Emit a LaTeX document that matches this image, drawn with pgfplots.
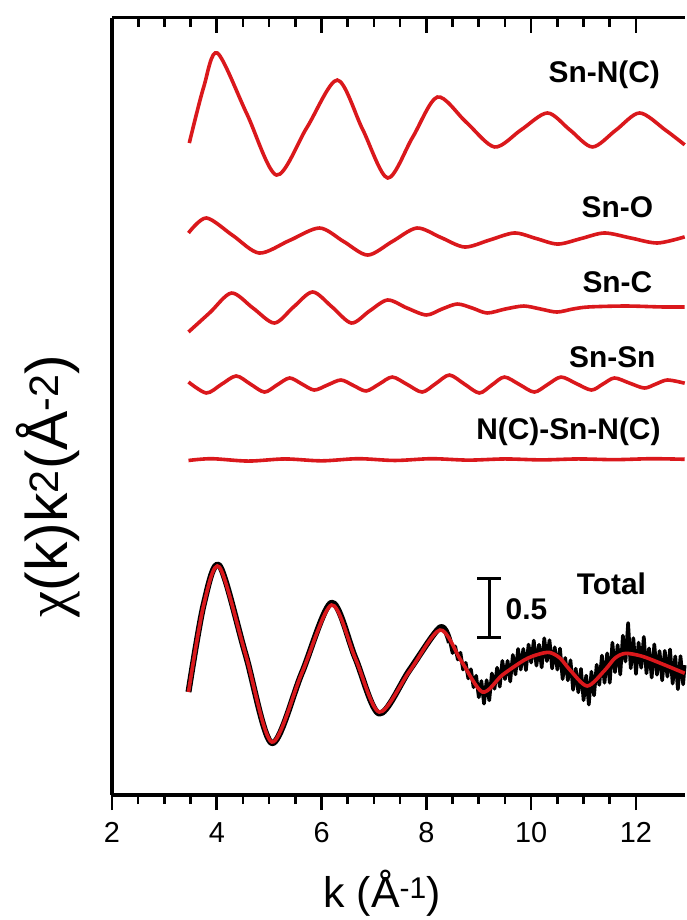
\documentclass[border=0pt]{standalone}
\usepackage{fontspec}
\setmainfont{Liberation Sans}
\newfontfamily\chifont{Liberation Serif}
\usepackage{pgfplots}
\pgfplotsset{compat=1.18}
\definecolor{fitred}{RGB}{218,24,28}
\pgfplotsset{
  common/.style={
    at={(112bp,125bp)}, anchor=south west,
    scale only axis, width=572.7bp, height=777bp,
    xmin=2, xmax=12.93, ymin=0, ymax=6.585,
    xtick={2,4,6,8,10,12}, minor x tick num=3,
    ytick=\empty,
    axis line style={-, line width=3bp},
    every tick/.style={line width=2.6bp, black},
    major tick length=15bp, minor tick length=9bp,
    clip=false,
  }
}
\begin{document}
\begin{tikzpicture}
\path (0,0) rectangle (685bp,920bp);
\begin{axis}[common,
  axis x line*=bottom, axis y line*=left,
  tick align=outside,
  xticklabel style={font=\fontsize{29}{29}\selectfont, inner sep=0pt, anchor=north, yshift=-12bp},
  /pgf/number format/assume math mode=true,
]
% Total: experimental data (black), low-k part
\addplot[black, line width=6bp, smooth, line join=round] coordinates {
(3.46,0.873) (3.75,1.615) (4.05,1.945) (4.55,1.19) (5.05,0.44) (5.62,1.03)
(6.19,1.63) (6.645,1.16) (7.10,0.69) (7.68,1.06) (8.26,1.42) (8.45,1.29)
};
% Total: experimental data (black), noisy high-k part
\addplot[black, line width=3.6bp, line join=round] coordinates {
(8.45,1.305) (8.50,1.203) (8.55,1.260) (8.60,1.148) (8.65,1.206) (8.70,1.063)
(8.75,1.121) (8.80,0.988) (8.85,1.066) (8.90,0.913) (8.95,1.011) (9.00,0.828)
(9.05,0.966) (9.10,0.774) (9.15,0.973) (9.20,0.802) (9.25,1.031) (9.30,0.900)
(9.35,1.079) (9.40,0.918) (9.45,1.137) (9.50,0.982) (9.55,1.137) (9.60,0.962)
(9.65,1.187) (9.70,1.022) (9.75,1.238) (9.80,1.063) (9.85,1.238) (9.90,1.058)
(9.95,1.275) (10.00,1.122) (10.05,1.309) (10.10,1.096) (10.15,1.274) (10.20,1.081)
(10.25,1.328) (10.30,1.135) (10.35,1.312) (10.40,1.072) (10.45,1.252) (10.50,1.062)
(10.55,1.242) (10.60,0.982) (10.65,1.162) (10.70,0.972) (10.75,1.142) (10.80,0.891)
(10.85,1.071) (10.90,0.870) (10.95,1.069) (11.00,0.803) (11.05,1.012) (11.10,0.766)
(11.15,1.045) (11.20,0.844) (11.25,1.104) (11.30,0.933) (11.35,1.182) (11.40,0.951)
(11.45,1.201) (11.50,0.951) (11.55,1.291) (11.60,1.041) (11.65,1.271) (11.70,1.021)
(11.75,1.351) (11.80,1.131) (11.85,1.458) (11.90,1.074) (11.95,1.330) (12.00,1.026)
(12.05,1.292) (12.10,1.078) (12.15,1.340) (12.20,1.031) (12.25,1.243) (12.30,0.995)
(12.35,1.277) (12.40,1.019) (12.45,1.220) (12.50,0.971) (12.55,1.222) (12.60,1.003)
(12.65,1.234) (12.70,0.944) (12.75,1.175) (12.80,0.896) (12.85,1.177) (12.90,0.938)
(12.93,1.100)
};
% Total: fit
\addplot[fitred, line width=3.6bp, smooth] coordinates {
(3.46,0.873) (3.75,1.610) (4.05,1.932) (4.55,1.191) (5.05,0.449) (5.62,1.030)
(6.19,1.610) (6.645,1.157) (7.10,0.703) (7.68,1.051) (8.26,1.398) (8.665,1.136)
(9.07,0.873) (9.45,1.017) (9.87,1.144) (10.12,1.190) (10.35,1.208) (10.55,1.160)
(10.75,1.055) (11.07,0.924) (11.40,1.055) (11.60,1.160) (11.80,1.200) (12.10,1.178)
(12.41,1.127) (12.93,1.032)
};
% Sn-N(C)
\addplot[fitred, line width=3.6bp, smooth] coordinates {
(3.475,5.525) (3.75,6.00) (4.01,6.288) (4.575,5.771) (5.14,5.254) (5.72,5.657)
(6.30,6.059) (6.78,5.644) (7.26,5.229) (7.735,5.572) (8.21,5.915) (8.755,5.704)
(9.30,5.492) (9.805,5.636) (10.31,5.780) (10.74,5.636) (11.17,5.492) (11.62,5.636)
(12.07,5.780) (12.56,5.636) (12.93,5.510)
};
% Sn-O
\addplot[fitred, line width=3.6bp, smooth] coordinates {
(3.46,4.763) (3.80,4.890) (4.305,4.742) (4.81,4.593) (5.385,4.699) (5.96,4.805)
(6.42,4.691) (6.88,4.576) (7.35,4.691) (7.82,4.805) (8.275,4.725) (8.73,4.644)
(9.205,4.703) (9.68,4.763) (10.095,4.716) (10.51,4.669) (10.955,4.716) (11.40,4.763)
(11.905,4.720) (12.41,4.678) (12.93,4.730)
};
% Sn-C
\addplot[fitred, line width=3.6bp, smooth] coordinates {
(3.46,3.924) (3.87,4.089) (4.28,4.254) (4.69,4.127) (5.10,4.000) (5.465,4.136)
(5.83,4.263) (6.20,4.136) (6.57,4.000) (6.915,4.102) (7.26,4.195) (7.63,4.127)
(8.00,4.068) (8.30,4.119) (8.59,4.161) (8.875,4.127) (9.16,4.085) (9.51,4.119)
(9.86,4.144) (10.175,4.119) (10.49,4.093) (10.80,4.119) (11.10,4.136) (11.80,4.144)
(12.50,4.136) (12.93,4.136)
};
% Sn-Sn
\addplot[fitred, line width=3.6bp, smooth] coordinates {
(3.46,3.500) (3.80,3.407) (4.085,3.479) (4.37,3.551) (4.64,3.483) (4.91,3.415)
(5.15,3.475) (5.39,3.534) (5.625,3.483) (5.86,3.432) (6.115,3.475) (6.37,3.517)
(6.61,3.470) (6.85,3.424) (7.10,3.483) (7.35,3.542) (7.635,3.479) (7.92,3.415)
(8.18,3.487) (8.44,3.559) (8.725,3.483) (9.01,3.407) (9.25,3.475) (9.49,3.542)
(9.775,3.479) (10.06,3.415) (10.315,3.479) (10.57,3.542) (10.86,3.487) (11.15,3.432)
(11.37,3.483) (11.59,3.534) (11.875,3.491) (12.16,3.449) (12.38,3.483) (12.60,3.517)
(12.93,3.490)
};
% N(C)-Sn-N(C)
\addplot[fitred, line width=3.6bp, smooth] coordinates {
(3.46,2.835) (3.9,2.850) (4.6,2.830) (5.3,2.848) (6.0,2.832) (6.7,2.850)
(7.4,2.835) (8.1,2.850) (8.8,2.838) (9.5,2.848) (10.2,2.840) (10.9,2.848)
(11.6,2.842) (12.3,2.850) (12.93,2.845)
};
% labels
\begin{scope}[every node/.style={font=\bfseries\fontsize{30}{30}\selectfont, inner sep=0pt}]
\node at (axis cs:11.395,6.10) {Sn-N(C)};
\node at (axis cs:11.645,4.983) {Sn-O};
\node at (axis cs:11.645,4.347) {Sn-C};
\node at (axis cs:11.548,3.712) {Sn-Sn};
\node at (axis cs:10.71,3.076) {N(C)-Sn-N(C)};
\node at (axis cs:11.53,1.788) {Total};
\node at (axis cs:9.91,1.576) {0.5};
\end{scope}
% scale bar
\draw[line width=3bp] (axis cs:9.20,1.839) -- (axis cs:9.20,1.339);
\draw[line width=3bp] (axis cs:8.975,1.839) -- (axis cs:9.425,1.839);
\draw[line width=3bp] (axis cs:8.975,1.339) -- (axis cs:9.425,1.339);
% axis labels
\node[font=\fontsize{43}{43}\selectfont, inner sep=0pt] at (axis cs:7.16,-0.83) {k (Å\textsuperscript{-1})};
\node[font=\fontsize{59}{59}\selectfont, inner sep=0pt, rotate=90] at (axis cs:0.78,2.62) {{\chifont χ}(k)k\textsuperscript{2}(Å\textsuperscript{-2})};
\end{axis}
\begin{axis}[common,
  axis x line*=top, axis y line=none,
  tick align=inside, xticklabels={},
]
\end{axis}
\end{tikzpicture}
\end{document}
